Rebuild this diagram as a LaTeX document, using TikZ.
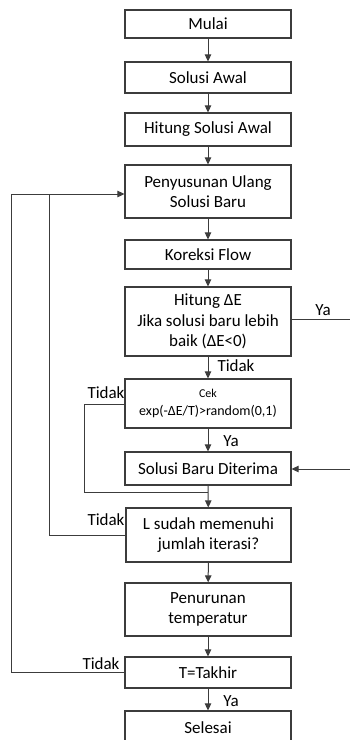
\documentclass[tikz,border=0pt]{standalone}
\usepackage{fontspec}
\setmainfont{Carlito}
\usetikzlibrary{arrows.meta}
\definecolor{ln}{HTML}{3C3C3C}
\begin{document}
\begin{tikzpicture}[x=1pt,y=-1pt,
  box/.style={draw=ln, line width=1.2pt, minimum width=166pt, inner sep=0pt, align=center,
    font=\fontsize{17}{20.5}\selectfont},
  lbl/.style={font=\fontsize{17}{20}\selectfont, inner sep=0pt},
  con/.style={draw=ln, line width=1pt},
  arr/.style={con, -{Triangle[length=7pt,width=6.5pt]}}]
\useasboundingbox (0,0) rectangle (350,740);
\node[box, minimum height=28pt] (mulai) at (208,24) {Mulai};
\node[box, minimum height=31pt] (awal) at (208,77.5) {Solusi Awal};
\node[box, minimum height=33pt] (hitawal) at (208,129.5) {Hitung Solusi Awal};
\node[box, minimum height=53pt] (susun) at (208,191.5) {Penyusunan Ulang\\Solusi Baru};
\node[box, minimum height=29pt] (koreksi) at (208,254.5) {Koreksi Flow};
\node[box, minimum height=69pt] (dE) at (208,321.5) {Hitung ΔE\\Jika solusi baru lebih\\baik (ΔE<0)};
\node[box, minimum height=49pt, font=\fontsize{14}{18}\selectfont] (cek) at (208,403.5) {{\fontsize{12}{14}\selectfont Cek}\\exp(-ΔE/T)>random(0,1)};
\node[box, minimum height=33pt] (terima) at (208,468.5) {Solusi Baru Diterima};
\node[box, minimum height=54pt, minimum width=165pt] (L) at (208.5,535) {L sudah memenuhi\\jumlah iterasi?};
\node[box, minimum height=53pt] (turun) at (208,609.5) {Penurunan\\temperatur};
\node[box, minimum height=31pt] (T) at (208,672.5) {T=Takhir};
\node[box, minimum height=34pt] (selesai) at (208,728) {Selesai};

\coordinate (yaout) at (350,319);
\coordinate (yain) at (350,469);
\coordinate (merge) at (208,492);

\draw[arr] (mulai) -- (awal);
\draw[arr] (awal) -- (hitawal);
\draw[arr] (hitawal) -- (susun);
\draw[arr] (susun) -- (koreksi);
\draw[arr] (koreksi) -- (dE);
\draw[arr] (dE) -- (cek);
\draw[arr] (cek) -- (terima);
\draw[arr] (terima) -- (L);
\draw[arr] (L) -- (turun);
\draw[arr] (turun) -- (T);
\draw[arr] (T) -- (selesai);

\draw[con] (dE.east |- yaout) -- (yaout);
\draw[arr] (yain) -- (terima.east |- yain);
\draw[con] (cek.west |- 0,404) -- (84,404) -- (84,492) -- (merge);
\draw[arr] (T.west) -- (11,672.5) -- (11,194) -- (susun.west |- 0,194);
\draw[con] (L.west) -- (49,535) -- (49,194);

\node[lbl] at (323,310) {Ya};
\node[lbl] at (236,366) {Tidak};
\node[lbl] at (106,393) {Tidak};
\node[lbl] at (231,441) {Ya};
\node[lbl] at (106,520) {Tidak};
\node[lbl] at (101,664) {Tidak};
\node[lbl] at (231,701) {Ya};
\end{tikzpicture}
\end{document}
